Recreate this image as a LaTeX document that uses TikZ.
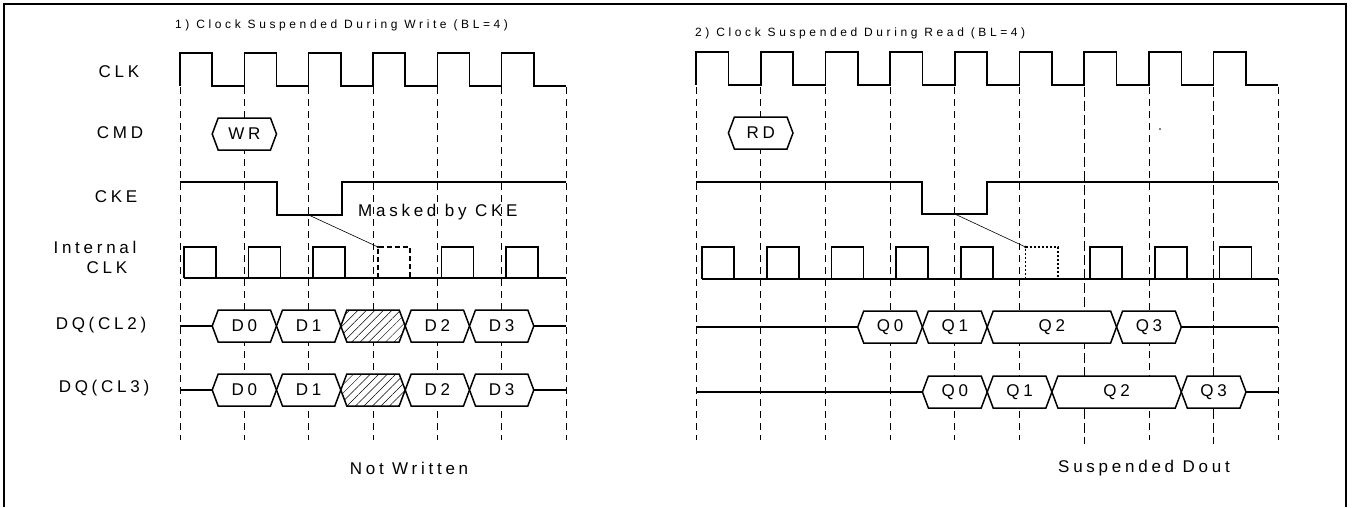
\documentclass[tikz,border=0pt]{standalone}
\usepackage{fontspec}
\setmainfont{Liberation Sans}[LetterSpace=22]
\newfontfamily\ttlfont{Liberation Sans}[LetterSpace=30]
\usetikzlibrary{patterns.meta}
\tikzset{
  frame/.style={line width=2.4pt},
  wave/.style={line width=1.6pt},
  gridline/.style={dash pattern=on 7pt off 5pt, line width=0.7pt},
  gridlong/.style={dash pattern=on 10pt off 4pt, line width=0.9pt},
  sig/.style={font=\fontsize{17}{20}\selectfont, inner sep=0pt},
  ttl/.style={font=\ttlfont\fontsize{12}{14}\selectfont, inner sep=0pt, anchor=west},
  busbox/.style={line width=1.5pt, fill=white},
  hatched/.style={preaction={fill=white}, pattern={Lines[angle=45,distance=6pt,line width=0.5pt]}},
  maskbox/.style={line width=1.8pt, dash pattern=on 5pt off 3pt},
  maskdot/.style={line width=1.6pt, dash pattern=on 2pt off 2pt},
  maskline/.style={line width=0.6pt}
}
% #1 extra style, #2 name, #3 left point, #4 right point, #5 mid y, #6 text
\newcommand{\databox}[6][]{%
  \draw[busbox,#1] (#3,#5) -- ++(6,-16) -- ({#4-6},{#5-16}) -- (#4,#5)
    -- ({#4-6},{#5+16}) -- ({#3+6},{#5+16}) -- cycle;
  \node[sig] (#2) at ({(#3+#4)/2},#5) {#6};}

\begin{document}
\begin{tikzpicture}[x=1pt,y=-1pt]
\useasboundingbox (0,0) rectangle (1353,507);
\draw[frame] (4,507) -- (4,4) -- (1346,4) -- (1346,507);

% titles and signal names
\node[ttl] (titleW) at (175,25) {1) Clock Suspended During Write (BL=4)};
\node[ttl] (titleR) at (695,33) {2) Clock Suspended During Read (BL=4)};
\node[sig] (nclk) at (119,72) {CLK};
\node[sig] (ncmd) at (120,133) {CMD};
\node[sig] (ncke) at (116,197) {CKE};
\node[sig] (nint) at (95,247) {Internal};
\node[sig] (nintclk) at (107,268) {CLK};
\node[sig] (ndq2) at (101,325) {DQ(CL2)};
\node[sig] (ndq3) at (104,388) {DQ(CL3)};

% grid
\foreach \k in {0,...,6}
  \draw[gridline] ({180+\k*64.33},87) -- ({180+\k*64.33},440);
\foreach \k in {0,...,5,7,9}
  \draw[gridline] ({696+\k*64.7},87) -- ({696+\k*64.7},440);
\foreach \k in {6,8}
  \draw[gridlong] ({696+\k*64.7},87) -- ({696+\k*64.7},444);

%% 1) write
\draw[wave] (180,86) \foreach \k in {0,...,5} {
  -- ({180+\k*64.33},53) -- ({212.2+\k*64.33},53)
  -- ({212.2+\k*64.33},86) -- ({244.33+\k*64.33},86) };
\databox{wr}{212.2}{276.5}{134}{WR}
\draw[wave] (180,182) -- (277,182) -- (277,215) -- (342,215) -- (342,182) -- (566,182);
\draw[wave] (184,278) -- (566,278);
\foreach \x in {184,248.3,312.7,441.3,505.7}
  \draw[wave] (\x,278) -- (\x,247) -- ({\x+32},247) -- ({\x+32},278);
\draw[maskbox] (378,278) -- (378,247) -- (410,247) -- (410,278);
\coordinate (ckelowW) at (308.7,215);
\coordinate (maskW) at (378,247);
\draw[maskline] (ckelowW) -- (maskW);
\fill (maskW) circle (1.3);
\node[sig, anchor=west] (maskedtxt) at (358,212) {Masked by CKE};

\draw[wave] (180,326) -- (212.2,326) (533.8,326) -- (566,326);
\databox{dza}{212.2}{276.5}{326}{D0}
\databox{doa}{276.5}{340.8}{326}{D1}
\databox[hatched]{xa}{340.8}{405.2}{326}{}
\databox{dtwa}{405.2}{469.5}{326}{D2}
\databox{dtha}{469.5}{533.8}{326}{D3}

\draw[wave] (180,390) -- (212.2,390) (533.8,390) -- (566,390);
\databox{dzb}{212.2}{276.5}{390}{D0}
\databox{dob}{276.5}{340.8}{390}{D1}
\databox[hatched]{xb}{340.8}{405.2}{390}{}
\databox{dtwb}{405.2}{469.5}{390}{D2}
\databox{dthb}{469.5}{533.8}{390}{D3}

\node[sig] (notwritten) at (409,468) {Not Written};

%% 2) read
\draw[wave] (696,85) \foreach \k in {0,...,8} {
  -- ({696+\k*64.7},52) -- ({728.4+\k*64.7},52)
  -- ({728.4+\k*64.7},85) -- ({760.7+\k*64.7},85) };
\databox{rd}{728.4}{793}{133}{RD}
\fill (1160,129) circle (0.9);
\draw[wave] (696,182) -- (922,182) -- (922,214) -- (987,214) -- (987,182) -- (1278,182);
\draw[wave] (702,279) -- (1278,279);
\foreach \x in {702,766.7,831.4,896.1,960.8,1090.2,1154.9,1219.6}
  \draw[wave] (\x,279) -- (\x,247) -- ({\x+32},247) -- ({\x+32},279);
\draw[maskdot] (1025.5,279) -- (1025.5,247) -- (1058,247) -- (1058,279);
\coordinate (ckelowR) at (954.8,214);
\coordinate (maskR) at (1025.5,247);
\draw[maskline] (ckelowR) -- (maskR);
\fill (maskR) circle (1.3);

\draw[wave] (696,327) -- (857.7,327) (1181.3,327) -- (1278,327);
\databox{qza}{857.7}{922.4}{327}{Q0}
\databox{qoa}{922.4}{987.2}{327}{Q1}
\databox{qtwa}{987.2}{1116.6}{327}{Q2}
\databox{qtha}{1116.6}{1181.3}{327}{Q3}

\draw[wave] (696,392) -- (922.4,392) (1246,392) -- (1278,392);
\databox{qzb}{922.4}{987.2}{392}{Q0}
\databox{qob}{987.2}{1051.9}{392}{Q1}
\databox{qtwb}{1051.9}{1181.3}{392}{Q2}
\databox{qthb}{1181.3}{1246}{392}{Q3}

\node[sig] (suspdout) at (1144,468) {Suspended Dout};
\end{tikzpicture}
\end{document}
